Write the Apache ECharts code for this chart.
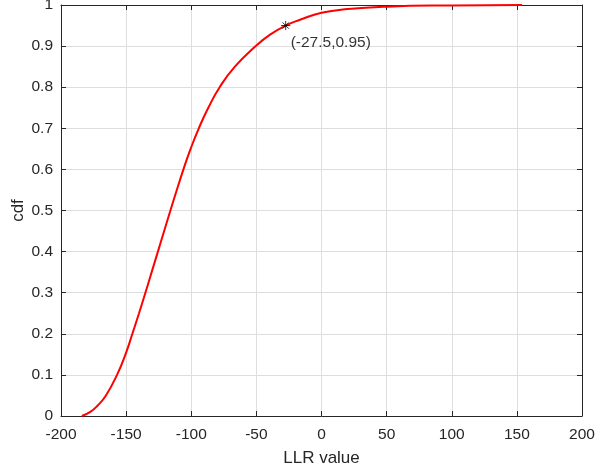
<!DOCTYPE html>
<html>
<head>
<meta charset="utf-8">
<script src="https://cdn.jsdelivr.net/npm/echarts@6/dist/echarts.min.js"></script>
<style>
  html, body { margin: 0; padding: 0; background: #fff; }
  #chart { width: 595px; height: 472px; }
</style>
</head>
<body>
<div id="chart"></div>
<script>
// LLR values (x) and their cdf (y)
var llrValues = [-184, -177.5, -172, -165.5, -157, -150.5, -145.2, -140.1, -135.2, -130.4, -125.6, -120.8, -116, -111.1, -106, -100.5, -94.2, -86.9, -78.2, -66.5, -50.5, -39.5, -27.5, -16.5, 0, 20, 50, 100, 154];
var cdfValues = [0, 0.01, 0.025, 0.05, 0.1, 0.15, 0.2, 0.25, 0.3, 0.35, 0.4, 0.45, 0.5, 0.55, 0.6, 0.65, 0.7, 0.75, 0.8, 0.85, 0.9, 0.928, 0.95, 0.964, 0.981, 0.99, 0.996, 0.999, 1.0];
// the marked point
var markX = -27.5;
var markY = 0.95;
var markText = '(-27.5,0.95)';

var curve = llrValues.map(function (x, i) { return [x, cdfValues[i]]; });

var axisColor = '#262626';
var gridColor = '#dedede';
var fontFam = 'Liberation Sans, Arial, sans-serif';

var chart = echarts.init(document.getElementById('chart'));

var baseX = {
  type: 'value',
  min: -200,
  max: 200,
  interval: 50,
  axisLine: { show: true, onZero: false, lineStyle: { color: axisColor, width: 1 } },
  axisTick: { show: true, inside: true, length: 5, lineStyle: { color: axisColor } },
  splitLine: { show: true, lineStyle: { color: gridColor, width: 1 } }
};
var baseY = {
  type: 'value',
  min: 0,
  max: 1,
  interval: 0.1,
  axisLine: { show: true, onZero: false, lineStyle: { color: axisColor, width: 1 } },
  axisTick: { show: true, inside: true, length: 5, lineStyle: { color: axisColor } },
  splitLine: { show: true, lineStyle: { color: gridColor, width: 1 } }
};

var option = {
  animation: false,
  backgroundColor: '#fff',
  grid: { left: 61, right: 13, top: 5, bottom: 56, containLabel: false, outerBoundsMode: 'none' },
  xAxis: [
    Object.assign({}, baseX, {
      position: 'bottom',
      name: 'LLR value',
      nameLocation: 'middle',
      nameGap: 34,
      nameMoveOverlap: false,
      nameTextStyle: { color: axisColor, fontSize: 17, fontFamily: fontFam },
      axisLabel: { color: axisColor, fontSize: 15.5, fontFamily: fontFam, margin: 11 }
    }),
    Object.assign({}, baseX, {
      position: 'top',
      axisLabel: { show: false },
      splitLine: { show: false }
    })
  ],
  yAxis: [
    Object.assign({}, baseY, {
      position: 'left',
      name: 'cdf',
      nameLocation: 'middle',
      nameGap: 34,
      nameMoveOverlap: false,
      nameTextStyle: { color: axisColor, fontSize: 17, fontFamily: fontFam },
      axisLabel: {
        color: axisColor, fontSize: 15.5, fontFamily: fontFam, margin: 8,
        formatter: function (v) { return String(Math.round(v * 10) / 10); }
      }
    }),
    Object.assign({}, baseY, {
      position: 'right',
      axisLabel: { show: false },
      splitLine: { show: false }
    })
  ],
  series: [
    {
      type: 'line',
      data: curve,
      xAxisIndex: 0,
      yAxisIndex: 0,
      showSymbol: false,
      smooth: 0.5,
      lineStyle: { color: '#ff0000', width: 2 },
      z: 3
    },
    {
      type: 'scatter',
      data: [[markX, markY]],
      xAxisIndex: 0,
      yAxisIndex: 0,
      symbol: 'path://M0,-1L0,1M-1,0L1,0M-0.7,-0.7L0.7,0.7M-0.7,0.7L0.7,-0.7',
      symbolSize: 9,
      itemStyle: { color: 'none', borderColor: '#000', borderWidth: 1 },
      label: {
        show: true,
        formatter: markText,
        position: [12, 16],
        align: 'left',
        verticalAlign: 'top',
        color: '#000',
        fontSize: 15.5,
        fontFamily: fontFam
      },
      z: 4
    }
  ]
};

chart.setOption(option);
</script>
</body>
</html>
